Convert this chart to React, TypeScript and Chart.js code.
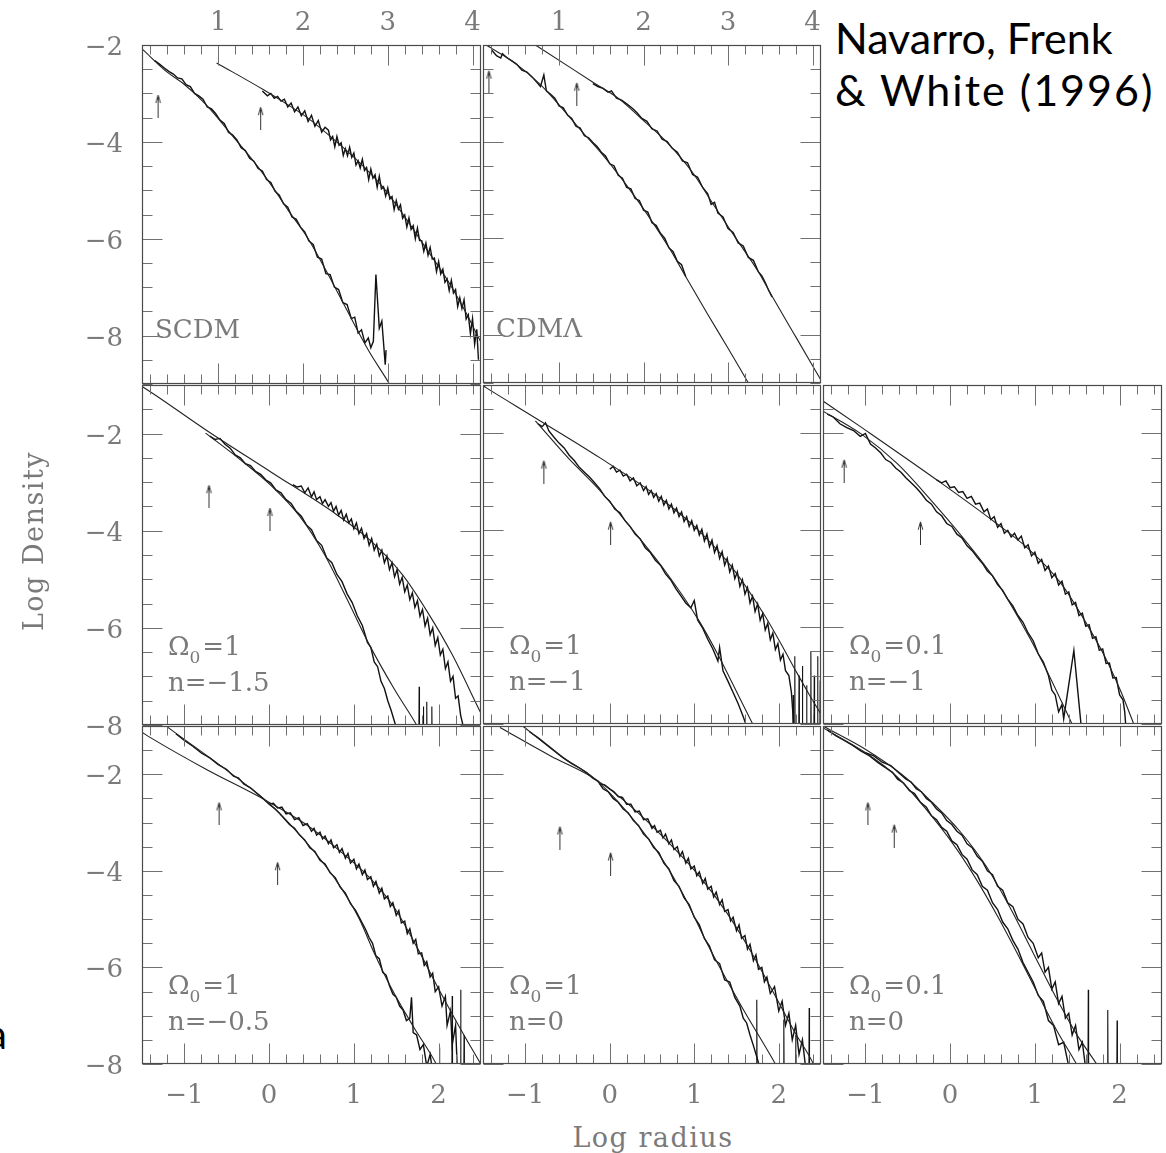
import React, { useEffect, useRef } from "react";
import { Chart, registerables } from "chart.js";

Chart.register(...registerables);

type Pt = [number, number];

// ---------- tick labels ----------
const topAxisLabels = [1, 2, 3, 4];
const bottomAxisLabels = [-1, 0, 1, 2];
const yAxisLabels = [-2, -4, -6, -8];

// ---------- SCDM ----------
const scdmFitSmall: Pt[] = [[0.05,-2.0],[0.1,-2.08],[0.39,-2.55],[0.59,-2.8],[0.85,-3.22],[1.17,-3.88],[1.43,-4.43],[1.64,-4.93],[1.84,-5.45],[2.05,-5.97],[2.26,-6.62],[2.46,-7.28],[2.63,-7.85],[2.78,-8.33],[3.02,-9.0],[3.1,-9.25]];
const scdmDataSmall: Pt[] = [[0.25,-2.32],[0.31,-2.4],[0.36,-2.47],[0.42,-2.55],[0.47,-2.6],[0.52,-2.68],[0.57,-2.7],[0.62,-2.82],[0.67,-2.86],[0.72,-3.0],[0.77,-3.05],[0.82,-3.12],[0.87,-3.28],[0.92,-3.32],[0.97,-3.42],[1.02,-3.55],[1.07,-3.62],[1.12,-3.8],[1.17,-3.86],[1.22,-3.96],[1.27,-4.12],[1.32,-4.18],[1.37,-4.34],[1.42,-4.4],[1.47,-4.55],[1.52,-4.6],[1.57,-4.78],[1.62,-4.84],[1.67,-5.02],[1.72,-5.1],[1.77,-5.28],[1.82,-5.35],[1.87,-5.55],[1.92,-5.6],[1.97,-5.76],[2.02,-5.86],[2.07,-6.05],[2.12,-6.12],[2.17,-6.38],[2.22,-6.42],[2.27,-6.72],[2.32,-6.74],[2.37,-7.0],[2.42,-7.05],[2.47,-7.32],[2.52,-7.36],[2.57,-7.65],[2.61,-7.62],[2.65,-7.95],[2.69,-7.88],[2.73,-8.15],[2.77,-8.05],[2.8,-8.25],[2.83,-8.12],[2.86,-6.74],[2.9,-7.85],[2.93,-7.7],[2.97,-8.6],[2.98,-8.3]];
const scdmFitLarge: Pt[] = [[0.98,-2.37],[1.54,-2.93],[1.79,-3.2],[2.05,-3.5],[2.37,-3.96],[2.68,-4.45],[2.94,-4.93],[3.2,-5.55],[3.46,-6.22],[3.72,-6.9],[3.92,-7.52],[4.03,-7.9],[4.1,-8.14],[4.2,-8.45]];
const scdmDataLarge: Pt[] = [[1.52,-2.95],[1.58,-3.05],[1.62,-3.0],[1.66,-3.1],[1.7,-3.06],[1.74,-3.16],[1.78,-3.12],[1.82,-3.28],[1.86,-3.2],[1.9,-3.38],[1.94,-3.28],[1.98,-3.46],[2.02,-3.36],[2.06,-3.58],[2.1,-3.45],[2.14,-3.68],[2.18,-3.56],[2.22,-3.8],[2.26,-3.7],[2.3,-3.76],[2.325,-3.96],[2.35,-3.89],[2.375,-4.1],[2.4,-3.89],[2.425,-4.07],[2.45,-4.02],[2.475,-4.28],[2.5,-4.14],[2.525,-4.29],[2.55,-4.11],[2.575,-4.32],[2.6,-4.23],[2.625,-4.48],[2.65,-4.39],[2.675,-4.54],[2.7,-4.36],[2.725,-4.59],[2.75,-4.53],[2.775,-4.78],[2.8,-4.56],[2.825,-4.75],[2.85,-4.68],[2.875,-4.94],[2.9,-4.71],[2.925,-4.97],[2.95,-4.93],[2.975,-5.12],[3.0,-4.95],[3.025,-5.18],[3.05,-5.13],[3.075,-5.4],[3.1,-5.21],[3.125,-5.39],[3.15,-5.3],[3.175,-5.58],[3.2,-5.51],[3.225,-5.76],[3.25,-5.57],[3.275,-5.81],[3.3,-5.73],[3.325,-6.0],[3.35,-5.78],[3.375,-6.04],[3.4,-6.04],[3.425,-6.26],[3.45,-6.09],[3.475,-6.34],[3.5,-6.18],[3.525,-6.42],[3.55,-6.4],[3.575,-6.68],[3.6,-6.47],[3.625,-6.73],[3.65,-6.63],[3.675,-6.9],[3.7,-6.83],[3.725,-7.07],[3.75,-6.86],[3.775,-7.12],[3.8,-7.05],[3.825,-7.4],[3.85,-7.22],[3.875,-7.44],[3.9,-7.26],[3.925,-7.66],[3.95,-7.57],[3.975,-7.96],[4.0,-7.65],[4.025,-8.18],[4.05,-7.87],[4.07,-8.5]];
const scdmArrows: Pt[] = [[0.29,-3.26],[1.5,-3.51]];

// ---------- CDM Lambda ----------
const cdmlFitSmall: Pt[] = [[0.1,-1.95],[0.14,-2.0],[0.46,-2.35],[0.78,-2.82],[1.02,-3.28],[1.25,-3.75],[1.49,-4.22],[1.72,-4.72],[1.88,-5.1],[2.06,-5.55],[2.32,-6.25],[2.5,-6.8],[2.75,-7.55],[3.0,-8.28],[3.23,-8.97],[3.3,-9.2]];
const cdmlDataSmall: Pt[] = [[0.2,-2.1],[0.26,-2.22],[0.31,-2.27],[0.33,-2.18],[0.38,-2.26],[0.44,-2.33],[0.5,-2.4],[0.56,-2.52],[0.62,-2.56],[0.68,-2.66],[0.74,-2.78],[0.78,-2.86],[0.82,-2.62],[0.85,-2.95],[0.9,-3.02],[0.95,-3.1],[1.0,-3.26],[1.05,-3.3],[1.1,-3.45],[1.15,-3.52],[1.2,-3.68],[1.25,-3.72],[1.3,-3.88],[1.35,-3.92],[1.4,-4.02],[1.45,-4.1],[1.5,-4.22],[1.55,-4.3],[1.6,-4.46],[1.65,-4.5],[1.7,-4.7],[1.75,-4.76],[1.8,-4.95],[1.85,-4.98],[1.9,-5.18],[1.95,-5.22],[2.0,-5.42],[2.05,-5.46],[2.1,-5.68],[2.15,-5.74],[2.2,-5.9],[2.25,-6.0],[2.3,-6.2],[2.35,-6.28],[2.4,-6.48],[2.45,-6.55],[2.5,-6.8]];
const cdmlFitLarge: Pt[] = [[0.6,-1.86],[0.72,-2.0],[1.41,-2.78],[1.72,-3.13],[1.99,-3.55],[2.28,-4.02],[2.58,-4.64],[2.84,-5.34],[3.1,-6.02],[3.36,-6.7],[3.52,-7.2],[3.8,-8.04],[4.04,-8.76],[4.12,-9.0]];
const cdmlDataLarge: Pt[] = [[1.4,-2.8],[1.46,-2.86],[1.52,-2.9],[1.58,-2.98],[1.62,-2.95],[1.68,-3.1],[1.74,-3.14],[1.8,-3.22],[1.86,-3.3],[1.92,-3.4],[1.98,-3.52],[2.04,-3.58],[2.1,-3.74],[2.16,-3.78],[2.22,-3.95],[2.28,-4.0],[2.34,-4.14],[2.4,-4.22],[2.46,-4.4],[2.52,-4.44],[2.58,-4.68],[2.64,-4.74],[2.7,-4.95],[2.76,-5.08],[2.8,-5.3],[2.84,-5.26],[2.88,-5.48],[2.94,-5.56],[3.0,-5.8],[3.06,-5.88],[3.12,-6.1],[3.18,-6.16],[3.24,-6.4],[3.3,-6.46],[3.36,-6.7],[3.4,-6.78],[3.44,-6.92],[3.48,-7.08],[3.52,-7.22]];
const cdmlArrows: Pt[] = [[0.17,-2.76],[1.21,-3.01]];

// ---------- Omega0=1, n=-1.5 ----------
const m15FitOuter: Pt[] = [[-1.55,-0.98],[-1.49,-1.04],[-0.75,-1.92],[0.03,-2.8],[0.79,-3.66],[1.18,-4.18],[1.57,-4.9],[1.86,-5.65],[2.16,-6.55],[2.5,-7.76],[2.6,-8.1]];
const m15FitInner: Pt[] = [[-0.75,-1.99],[-0.36,-2.51],[0.03,-3.08],[0.36,-3.7],[0.65,-4.48],[0.92,-5.41],[1.18,-6.34],[1.48,-7.27],[1.75,-8.03],[1.8,-8.2]];
const m15DataInner: Pt[] = [[-0.7,-2.05],[-0.64,-2.12],[-0.58,-2.1],[-0.52,-2.22],[-0.46,-2.3],[-0.4,-2.44],[-0.34,-2.5],[-0.28,-2.62],[-0.22,-2.66],[-0.16,-2.78],[-0.1,-2.84],[-0.04,-2.95],[0.02,-3.02],[0.08,-3.16],[0.14,-3.22],[0.2,-3.36],[0.26,-3.44],[0.32,-3.6],[0.38,-3.7],[0.44,-3.88],[0.5,-3.98],[0.56,-4.2],[0.62,-4.3],[0.68,-4.56],[0.74,-4.66],[0.8,-4.9],[0.86,-5.05],[0.92,-5.3],[0.98,-5.48],[1.04,-5.75],[1.1,-5.95],[1.16,-6.3],[1.2,-6.4],[1.24,-6.7],[1.28,-6.8],[1.32,-7.1],[1.36,-7.25],[1.4,-7.5],[1.44,-7.7],[1.5,-8.05],[1.52,-8.3]];
const m15DataOuter: Pt[] = [[0.28,-3.05],[0.33,-3.1],[0.38,-3.08],[0.42,-3.22],[0.46,-3.12],[0.5,-3.3],[0.53,-3.2],[0.56,-3.36],[0.6,-3.3],[0.63,-3.44],[0.66,-3.36],[0.7,-3.5],[0.73,-3.42],[0.76,-3.6],[0.79,-3.5],[0.82,-3.68],[0.85,-3.58],[0.88,-3.78],[0.91,-3.66],[0.94,-3.84],[0.97,-3.76],[1.0,-3.96],[1.03,-3.84],[1.06,-4.06],[1.09,-3.95],[1.12,-4.16],[1.15,-4.06],[1.18,-4.3],[1.21,-4.16],[1.24,-4.4],[1.27,-4.28],[1.3,-4.52],[1.33,-4.4],[1.36,-4.66],[1.39,-4.52],[1.42,-4.8],[1.45,-4.66],[1.48,-4.95],[1.51,-4.8],[1.54,-5.1],[1.57,-4.96],[1.6,-5.26],[1.63,-5.12],[1.66,-5.42],[1.69,-5.28],[1.72,-5.58],[1.75,-5.44],[1.78,-5.76],[1.81,-5.62],[1.84,-5.96],[1.87,-5.8],[1.9,-6.14],[1.93,-6.0],[1.96,-6.36],[1.99,-6.2],[2.02,-6.56],[2.05,-6.44],[2.08,-6.84],[2.11,-6.7],[2.14,-7.1],[2.17,-7.0],[2.2,-7.45],[2.23,-7.4],[2.26,-7.8],[2.3,-8.1],[2.32,-8.3]];
const m15Spikes: Pt[] = [[1.77,-7.21],[1.82,-7.62],[1.86,-7.52],[1.92,-7.62]];
const m15Arrows: Pt[] = [[-0.71,-3.29],[0.01,-3.76]];

// ---------- Omega0=1, n=-1 ----------
const m1FitOuter: Pt[] = [[-1.55,-0.96],[-1.46,-1.06],[-0.88,-1.68],[-0.11,-2.51],[0.66,-3.42],[1.05,-4.0],[1.44,-4.75],[1.83,-5.75],[2.06,-6.45],[2.22,-6.96],[2.37,-7.42],[2.5,-7.8],[2.6,-8.1]];
const m1FitInner: Pt[] = [[-0.88,-1.74],[-0.49,-2.51],[-0.11,-3.19],[0.28,-4.01],[0.66,-4.85],[1.05,-5.85],[1.29,-6.6],[1.52,-7.4],[1.7,-8.03],[1.75,-8.2]];
const m1DataInner: Pt[] = [[-0.85,-1.8],[-0.8,-1.86],[-0.76,-1.78],[-0.72,-1.95],[-0.66,-2.08],[-0.6,-2.2],[-0.54,-2.3],[-0.48,-2.45],[-0.42,-2.56],[-0.36,-2.7],[-0.3,-2.8],[-0.24,-2.9],[-0.18,-3.02],[-0.12,-3.14],[-0.06,-3.3],[0.0,-3.4],[0.06,-3.56],[0.12,-3.64],[0.18,-3.8],[0.24,-3.92],[0.3,-4.08],[0.36,-4.18],[0.42,-4.36],[0.48,-4.46],[0.54,-4.62],[0.6,-4.72],[0.66,-4.9],[0.72,-5.02],[0.78,-5.2],[0.84,-5.35],[0.9,-5.5],[0.96,-5.6],[1.0,-5.45],[1.04,-5.85],[1.1,-6.02],[1.16,-6.25],[1.22,-6.45],[1.28,-6.7],[1.3,-6.42],[1.34,-6.9],[1.4,-7.12],[1.46,-7.35],[1.52,-7.58],[1.58,-7.85],[1.62,-8.05],[1.64,-8.3]];
const m1DataOuter: Pt[] = [[0.0,-2.74],[0.04,-2.68],[0.08,-2.8],[0.12,-2.76],[0.16,-2.88],[0.2,-2.84],[0.24,-2.98],[0.28,-2.92],[0.32,-3.08],[0.36,-3.02],[0.4,-3.18],[0.43,-3.1],[0.46,-3.26],[0.49,-3.18],[0.52,-3.32],[0.55,-3.24],[0.58,-3.4],[0.61,-3.3],[0.64,-3.48],[0.67,-3.38],[0.7,-3.56],[0.73,-3.46],[0.76,-3.64],[0.79,-3.54],[0.82,-3.72],[0.85,-3.62],[0.88,-3.82],[0.91,-3.72],[0.94,-3.92],[0.97,-3.8],[1.0,-4.0],[1.03,-3.9],[1.06,-4.1],[1.09,-3.98],[1.12,-4.22],[1.15,-4.08],[1.18,-4.34],[1.21,-4.2],[1.24,-4.46],[1.27,-4.32],[1.3,-4.58],[1.33,-4.44],[1.36,-4.72],[1.39,-4.58],[1.42,-4.86],[1.45,-4.72],[1.48,-5.0],[1.51,-4.86],[1.54,-5.16],[1.57,-5.02],[1.6,-5.32],[1.63,-5.18],[1.66,-5.5],[1.69,-5.36],[1.72,-5.68],[1.75,-5.52],[1.78,-5.86],[1.81,-5.72],[1.84,-6.06],[1.87,-5.92],[1.9,-6.26],[1.93,-6.12],[1.96,-6.46],[1.99,-6.34],[2.02,-6.68],[2.05,-6.56],[2.08,-6.9],[2.12,-7.0],[2.15,-7.35],[2.18,-8.1],[2.2,-8.3]];
const m1Spikes: Pt[] = [[2.17,-7.4],[2.19,-6.6],[2.24,-7.0],[2.28,-6.8],[2.33,-7.2],[2.38,-6.5],[2.42,-7.0],[2.46,-6.6],[2.49,-7.1]];
const m1Arrows: Pt[] = [[-0.78,-2.79],[0.01,-4.05]];

// ---------- Omega0=0.1, n=-1 ----------
const l1FitOuter: Pt[] = [[-1.55,-1.27],[-1.5,-1.33],[-1.05,-1.87],[-0.19,-2.92],[0.54,-3.85],[0.92,-4.38],[1.31,-5.1],[1.59,-5.87],[1.82,-6.59],[2.01,-7.31],[2.16,-7.97],[2.2,-8.15]];
const l1FitInner: Pt[] = [[-1.55,-1.49],[-1.5,-1.54],[-1.05,-2.01],[-0.62,-2.63],[-0.24,-3.35],[0.15,-4.15],[0.54,-5.04],[0.84,-5.91],[1.08,-6.69],[1.31,-7.52],[1.43,-7.97],[1.47,-8.15]];
const l1DataInner: Pt[] = [[-1.45,-1.6],[-1.38,-1.66],[-1.3,-1.8],[-1.22,-1.88],[-1.14,-1.94],[-1.06,-2.06],[-1.0,-2.0],[-0.94,-2.22],[-0.88,-2.3],[-0.82,-2.4],[-0.76,-2.54],[-0.7,-2.6],[-0.64,-2.72],[-0.58,-2.8],[-0.52,-2.92],[-0.46,-3.02],[-0.4,-3.12],[-0.34,-3.24],[-0.28,-3.38],[-0.22,-3.46],[-0.16,-3.62],[-0.1,-3.7],[-0.04,-3.86],[0.02,-3.92],[0.08,-4.08],[0.14,-4.16],[0.2,-4.32],[0.26,-4.42],[0.32,-4.56],[0.38,-4.68],[0.44,-4.84],[0.5,-4.94],[0.56,-5.12],[0.62,-5.24],[0.68,-5.42],[0.74,-5.56],[0.8,-5.76],[0.86,-5.9],[0.92,-6.12],[0.98,-6.28],[1.04,-6.55],[1.1,-6.72],[1.16,-7.0],[1.2,-7.3],[1.24,-7.4],[1.28,-7.75],[1.32,-7.6],[1.34,-7.89],[1.46,-6.48],[1.54,-7.93],[1.56,-8.3]];
const l1DataOuter: Pt[] = [[-0.16,-2.96],[-0.1,-3.02],[-0.05,-2.98],[0.0,-3.12],[0.05,-3.1],[0.1,-3.22],[0.15,-3.2],[0.2,-3.34],[0.25,-3.3],[0.3,-3.46],[0.35,-3.44],[0.4,-3.62],[0.44,-3.56],[0.48,-3.78],[0.52,-3.72],[0.56,-3.94],[0.6,-3.86],[0.64,-4.06],[0.68,-4.0],[0.72,-4.14],[0.76,-4.06],[0.8,-4.2],[0.84,-4.12],[0.88,-4.36],[0.92,-4.3],[0.96,-4.53],[1.0,-4.45],[1.04,-4.68],[1.08,-4.6],[1.12,-4.83],[1.16,-4.74],[1.2,-4.98],[1.24,-4.89],[1.28,-5.13],[1.32,-5.05],[1.36,-5.32],[1.4,-5.27],[1.44,-5.54],[1.48,-5.49],[1.52,-5.76],[1.56,-5.71],[1.6,-5.98],[1.64,-5.95],[1.68,-6.23],[1.72,-6.2],[1.76,-6.48],[1.8,-6.45],[1.84,-6.75],[1.88,-6.74],[1.92,-7.05],[1.96,-7.04],[2.0,-7.4],[2.04,-7.5],[2.06,-7.75],[2.08,-8.2]];
const l1Arrows: Pt[] = [[-1.25,-2.77],[-0.35,-4.05]];

// ---------- Omega0=1, n=-0.5 ----------
const m05FitOuter: Pt[] = [[-1.5,-1.13],[-1.41,-1.23],[-0.75,-1.89],[-0.05,-2.53],[0.42,-3.02],[0.83,-3.58],[1.18,-4.13],[1.48,-4.77],[1.75,-5.6],[2.01,-6.48],[2.25,-7.25],[2.5,-8.01]];
const m05FitInner: Pt[] = [[-1.23,-0.98],[-1.17,-1.06],[-0.59,-1.8],[-0.05,-2.53],[0.24,-3.02],[0.54,-3.62],[0.83,-4.3],[1.06,-4.98],[1.24,-5.7],[1.44,-6.42],[1.71,-7.25],[1.98,-8.03],[2.02,-8.2]];
const m05DataInner: Pt[] = [[-1.1,-1.16],[-1.0,-1.3],[-0.9,-1.42],[-0.8,-1.56],[-0.7,-1.66],[-0.6,-1.8],[-0.5,-1.9],[-0.42,-2.04],[-0.36,-2.08],[-0.3,-2.2],[-0.22,-2.28],[-0.14,-2.4],[-0.06,-2.52],[0.0,-2.62],[0.06,-2.7],[0.12,-2.8],[0.18,-2.92],[0.24,-3.04],[0.3,-3.12],[0.36,-3.26],[0.42,-3.36],[0.48,-3.52],[0.54,-3.6],[0.6,-3.78],[0.66,-3.86],[0.72,-4.04],[0.78,-4.14],[0.84,-4.34],[0.9,-4.46],[0.96,-4.68],[1.02,-4.82],[1.08,-5.02],[1.14,-5.22],[1.18,-5.38],[1.22,-5.5],[1.26,-5.76],[1.3,-5.82],[1.34,-6.1],[1.38,-6.16],[1.42,-6.38],[1.46,-6.55],[1.5,-6.62],[1.54,-6.8],[1.58,-6.88],[1.62,-7.1],[1.66,-7.05],[1.68,-6.62],[1.7,-7.35],[1.74,-7.4],[1.78,-7.7],[1.82,-7.6],[1.86,-8.05],[1.9,-7.8],[1.94,-8.3]];
const m05DataOuter: Pt[] = [[0.0,-2.62],[0.05,-2.6],[0.1,-2.7],[0.15,-2.68],[0.2,-2.82],[0.25,-2.8],[0.3,-2.94],[0.35,-2.9],[0.4,-3.06],[0.45,-3.02],[0.5,-3.18],[0.53,-3.12],[0.56,-3.26],[0.6,-3.2],[0.63,-3.34],[0.66,-3.28],[0.7,-3.44],[0.73,-3.36],[0.76,-3.52],[0.8,-3.46],[0.83,-3.62],[0.86,-3.54],[0.9,-3.74],[0.93,-3.64],[0.96,-3.84],[1.0,-3.76],[1.03,-3.96],[1.06,-3.86],[1.1,-4.08],[1.13,-3.98],[1.16,-4.18],[1.2,-4.12],[1.23,-4.32],[1.26,-4.22],[1.3,-4.46],[1.33,-4.36],[1.36,-4.58],[1.4,-4.52],[1.43,-4.74],[1.46,-4.66],[1.5,-4.92],[1.53,-4.82],[1.56,-5.08],[1.6,-5.04],[1.63,-5.3],[1.66,-5.2],[1.7,-5.5],[1.73,-5.42],[1.76,-5.72],[1.8,-5.7],[1.83,-5.96],[1.86,-5.88],[1.9,-6.2],[1.93,-6.12],[1.96,-6.5],[2.0,-6.4],[2.04,-6.8],[2.08,-6.6],[2.1,-7.2],[2.14,-6.9],[2.16,-7.6],[2.2,-7.2],[2.22,-8.1],[2.24,-8.3]];
const m05Spikes: Pt[] = [[2.01,-7.66],[2.16,-6.59],[2.26,-6.46],[2.3,-7.4]];
const m05Arrows: Pt[] = [[-0.59,-2.81],[0.1,-4.05]];

// ---------- Omega0=1, n=0 ----------
const m0FitOuter: Pt[] = [[-1.3,-1.03],[-1.23,-1.1],[-0.7,-1.62],[-0.18,-2.09],[0.28,-2.71],[0.66,-3.35],[1.05,-4.09],[1.39,-4.88],[1.68,-5.7],[1.94,-6.53],[2.18,-7.31],[2.42,-8.03],[2.46,-8.2]];
const m0FitInner: Pt[] = [[-1.03,-1.0],[-0.58,-1.62],[-0.18,-2.09],[0.18,-2.73],[0.54,-3.54],[0.86,-4.46],[1.18,-5.6],[1.57,-6.84],[1.97,-8.03],[2.02,-8.2]];
const m0DataInner: Pt[] = [[-0.95,-1.12],[-0.85,-1.24],[-0.75,-1.38],[-0.65,-1.52],[-0.55,-1.66],[-0.45,-1.78],[-0.35,-1.88],[-0.28,-1.96],[-0.2,-2.08],[-0.14,-2.14],[-0.08,-2.3],[-0.02,-2.36],[0.04,-2.5],[0.1,-2.58],[0.16,-2.72],[0.22,-2.8],[0.28,-2.96],[0.34,-3.06],[0.4,-3.24],[0.46,-3.34],[0.52,-3.52],[0.58,-3.62],[0.64,-3.84],[0.7,-3.96],[0.76,-4.2],[0.82,-4.32],[0.88,-4.56],[0.94,-4.7],[1.0,-4.96],[1.06,-5.12],[1.12,-5.4],[1.18,-5.56],[1.24,-5.84],[1.3,-5.92],[1.36,-6.26],[1.42,-6.3],[1.48,-6.62],[1.54,-6.8],[1.58,-7.05],[1.62,-7.15],[1.66,-7.4],[1.7,-7.62],[1.74,-7.85],[1.78,-8.1],[1.8,-8.3]];
const m0DataOuter: Pt[] = [[-0.12,-2.2],[-0.06,-2.22],[0.0,-2.3],[0.05,-2.36],[0.1,-2.46],[0.15,-2.48],[0.2,-2.62],[0.25,-2.62],[0.3,-2.78],[0.35,-2.76],[0.4,-2.94],[0.45,-2.92],[0.5,-3.12],[0.53,-3.06],[0.56,-3.2],[0.6,-3.16],[0.63,-3.32],[0.66,-3.24],[0.7,-3.44],[0.73,-3.36],[0.76,-3.56],[0.8,-3.5],[0.83,-3.7],[0.86,-3.6],[0.9,-3.84],[0.93,-3.74],[0.96,-3.96],[1.0,-3.9],[1.03,-4.1],[1.06,-4.02],[1.1,-4.26],[1.13,-4.16],[1.16,-4.38],[1.2,-4.32],[1.23,-4.54],[1.26,-4.44],[1.3,-4.7],[1.33,-4.6],[1.36,-4.84],[1.4,-4.8],[1.43,-5.04],[1.46,-4.96],[1.5,-5.24],[1.53,-5.12],[1.56,-5.4],[1.6,-5.34],[1.63,-5.62],[1.66,-5.52],[1.7,-5.86],[1.73,-5.74],[1.76,-6.04],[1.8,-6.0],[1.83,-6.3],[1.86,-6.2],[1.9,-6.54],[1.95,-6.4],[2.0,-6.9],[2.04,-6.7],[2.08,-7.2],[2.12,-6.95],[2.16,-7.5],[2.2,-7.2],[2.24,-7.8],[2.28,-7.5],[2.32,-8.1],[2.34,-8.3]];
const m0Spikes: Pt[] = [[1.74,-6.67],[2.06,-7.08],[2.2,-7.4],[2.36,-6.84]];
const m0Arrows: Pt[] = [[-0.59,-3.31],[0.01,-3.85]];

// ---------- Omega0=0.1, n=0 ----------
const l0FitOuter: Pt[] = [[-1.55,-0.95],[-1.5,-1.0],[-1.01,-1.47],[-0.58,-1.99],[-0.23,-2.55],[0.12,-3.19],[0.42,-3.89],[0.71,-4.77],[0.98,-5.7],[1.24,-6.59],[1.48,-7.35],[1.74,-8.03],[1.8,-8.2]];
const l0FitInner: Pt[] = [[-1.55,-0.99],[-1.5,-1.04],[-1.01,-1.54],[-0.64,-2.03],[-0.29,-2.71],[0.03,-3.43],[0.3,-4.15],[0.56,-4.94],[0.79,-5.7],[1.03,-6.53],[1.26,-7.31],[1.5,-8.03],[1.55,-8.2]];
const l0DataInner: Pt[] = [[-1.45,-1.08],[-1.35,-1.2],[-1.25,-1.3],[-1.15,-1.4],[-1.05,-1.52],[-0.95,-1.62],[-0.85,-1.76],[-0.75,-1.88],[-0.68,-1.96],[-0.62,-2.1],[-0.55,-2.18],[-0.48,-2.34],[-0.42,-2.4],[-0.35,-2.58],[-0.28,-2.68],[-0.22,-2.86],[-0.16,-2.94],[-0.1,-3.1],[-0.04,-3.18],[0.02,-3.38],[0.08,-3.46],[0.14,-3.66],[0.2,-3.76],[0.26,-3.98],[0.32,-4.08],[0.38,-4.32],[0.44,-4.4],[0.5,-4.66],[0.56,-4.8],[0.62,-5.06],[0.68,-5.2],[0.74,-5.44],[0.8,-5.62],[0.86,-5.9],[0.92,-6.1],[0.98,-6.3],[1.04,-6.58],[1.1,-6.7],[1.16,-7.1],[1.22,-7.2],[1.28,-7.6],[1.34,-7.55],[1.4,-8.05],[1.42,-8.3]];
const l0DataOuter: Pt[] = [[-1.0,-1.55],[-0.9,-1.62],[-0.8,-1.75],[-0.7,-1.82],[-0.6,-1.98],[-0.52,-2.1],[-0.46,-2.16],[-0.4,-2.3],[-0.34,-2.36],[-0.28,-2.5],[-0.22,-2.58],[-0.16,-2.72],[-0.1,-2.8],[-0.04,-2.96],[0.02,-3.04],[0.08,-3.18],[0.14,-3.26],[0.2,-3.44],[0.26,-3.52],[0.32,-3.7],[0.38,-3.8],[0.44,-4.0],[0.5,-4.08],[0.56,-4.32],[0.62,-4.4],[0.68,-4.66],[0.74,-4.74],[0.8,-5.0],[0.86,-5.1],[0.92,-5.38],[0.98,-5.5],[1.04,-5.8],[1.08,-5.7],[1.12,-6.1],[1.16,-6.0],[1.2,-6.45],[1.24,-6.3],[1.28,-6.75],[1.32,-6.6],[1.36,-7.05],[1.4,-6.95],[1.44,-7.4],[1.48,-7.2],[1.52,-7.7],[1.56,-7.55],[1.6,-8.1],[1.62,-8.3]];
const l0Spikes: Pt[] = [[1.63,-6.46],[1.86,-6.88],[1.97,-7.1]];
const l0Arrows: Pt[] = [[-0.97,-2.81],[-0.66,-3.27]];

// ---------- layout ----------
const COL_LEFT = [142, 482, 822];
const COL_W = [340, 340, 341];
const ROW_TOP = [45, 384, 725];
const ROW_H = [339, 341, 339];

interface PanelDef {
  col: number; row: number;
  xMin: number; xMax: number; yMin: number; yMax: number;
  fits: Pt[][]; data: Pt[][]; spikes: Pt[]; arrows: Pt[];
  name?: string; omega?: string; n?: string;
}

const TOP_X = { xMin: 0.1, xMax: 4.1, yMin: -9, yMax: -2 };
const STD_X = { xMin: -1.5, xMax: 2.5, yMin: -8, yMax: -1 };

const panels: PanelDef[] = [
  { col: 0, row: 0, ...TOP_X, fits: [scdmFitSmall, scdmFitLarge], data: [scdmDataSmall, scdmDataLarge], spikes: [], arrows: scdmArrows, name: "SCDM" },
  { col: 1, row: 0, ...TOP_X, fits: [cdmlFitSmall, cdmlFitLarge], data: [cdmlDataSmall, cdmlDataLarge], spikes: [], arrows: cdmlArrows, name: "CDMΛ" },
  { col: 0, row: 1, ...STD_X, fits: [m15FitOuter, m15FitInner], data: [m15DataInner, m15DataOuter], spikes: m15Spikes, arrows: m15Arrows, omega: "1", n: "−1.5" },
  { col: 1, row: 1, ...STD_X, fits: [m1FitOuter, m1FitInner], data: [m1DataInner, m1DataOuter], spikes: m1Spikes, arrows: m1Arrows, omega: "1", n: "−1" },
  { col: 2, row: 1, ...STD_X, fits: [l1FitOuter, l1FitInner], data: [l1DataInner, l1DataOuter], spikes: [], arrows: l1Arrows, omega: "0.1", n: "−1" },
  { col: 0, row: 2, ...STD_X, fits: [m05FitOuter, m05FitInner], data: [m05DataInner, m05DataOuter], spikes: m05Spikes, arrows: m05Arrows, omega: "1", n: "−0.5" },
  { col: 1, row: 2, ...STD_X, fits: [m0FitOuter, m0FitInner], data: [m0DataInner, m0DataOuter], spikes: m0Spikes, arrows: m0Arrows, omega: "1", n: "0" },
  { col: 2, row: 2, ...STD_X, fits: [l0FitOuter, l0FitInner], data: [l0DataInner, l0DataOuter], spikes: l0Spikes, arrows: l0Arrows, omega: "0.1", n: "0" },
];

const SERIF = '"DejaVu Serif", serif';
const TEXT_GRAY = "#7a7a7a";

function fmt(v: number): string {
  return v < 0 ? "−" + Math.abs(v) : String(v);
}

function arrowImage(): HTMLCanvasElement {
  const c = document.createElement("canvas");
  c.width = 9; c.height = 24;
  const g = c.getContext("2d")!;
  g.strokeStyle = "#333"; g.lineWidth = 1;
  g.beginPath(); g.moveTo(4.5, 1.5); g.lineTo(4.5, 24); g.stroke();
  g.beginPath(); g.moveTo(2.2, 9); g.lineTo(4.5, 1); g.lineTo(6.8, 9); g.stroke();
  return c;
}

function stepValues(min: number, max: number, step: number): number[] {
  const out: number[] = [];
  for (let k = Math.ceil(min / step - 1e-6); k * step <= max + 1e-6; k++) out.push(+(k * step).toFixed(4));
  return out;
}

function framePlugin(def: PanelDef) {
  return {
    id: "panelFrame",
    afterDatasetsDraw(chart: any) {
      const { ctx, chartArea: a } = chart;
      const xs = chart.scales.x, ys = chart.scales.y;
      const xMajor = def.row === 0 ? topAxisLabels : bottomAxisLabels;
      const yMajor = yAxisLabels;
      const xMinor = stepValues(def.xMin, def.xMax, 0.2).filter(v => !xMajor.some(m => Math.abs(m - v) < 1e-6));
      const yMinor = stepValues(def.yMin, def.yMax, 0.5).filter(v => !yMajor.some(m => Math.abs(m - v) < 1e-6));
      const l = Math.round(a.left) + 0.5, r = Math.round(a.right) - 0.5;
      const t = Math.round(a.top) + 0.5, b = Math.round(a.bottom) - 0.5;
      ctx.save();
      ctx.strokeStyle = "#707070";
      ctx.lineWidth = 1;
      ctx.beginPath();
      const vx = (v: number, len: number) => {
        const p = Math.round(xs.getPixelForValue(v)) + 0.5;
        ctx.moveTo(p, b); ctx.lineTo(p, b - len);
        ctx.moveTo(p, t); ctx.lineTo(p, t + len);
      };
      const hy = (v: number, len: number) => {
        const p = Math.round(ys.getPixelForValue(v)) + 0.5;
        ctx.moveTo(l, p); ctx.lineTo(l + len, p);
        ctx.moveTo(r, p); ctx.lineTo(r - len, p);
      };
      xMinor.forEach(v => vx(v, 9));
      xMajor.forEach(v => vx(v, 20));
      yMinor.forEach(v => hy(v, 10));
      yMajor.forEach(v => hy(v, 20));
      ctx.stroke();
      ctx.strokeStyle = "#4a4a4a";
      ctx.lineWidth = 1.2;
      ctx.strokeRect(l, t, r - l, b - t);

      ctx.fillStyle = TEXT_GRAY;
      ctx.font = "26px " + SERIF;
      if (def.col === 0) {
        ctx.textAlign = "right";
        ctx.textBaseline = "alphabetic";
        yMajor.forEach(v => ctx.fillText(fmt(v), a.left - 19, ys.getPixelForValue(v) + 10));
      }
      if (def.row === 2) {
        ctx.textAlign = "center";
        bottomAxisLabels.forEach(v => ctx.fillText(fmt(v), xs.getPixelForValue(v), a.bottom + 39));
      }
      if (def.row === 0) {
        ctx.textAlign = "center";
        topAxisLabels.forEach(v => ctx.fillText(fmt(v), xs.getPixelForValue(v), a.top - 15));
      }
      ctx.textAlign = "left";
      if (def.name) {
        ctx.fillText(def.name, a.left + 13, a.bottom - 46);
      }
      if (def.omega) {
        const x0 = a.left + 26;
        const yb = a.bottom - 70;
        ctx.fillText("Ω", x0, yb);
        const w1 = ctx.measureText("Ω").width;
        ctx.font = "17px " + SERIF;
        ctx.fillText("0", x0 + w1, yb + 8);
        const w2 = ctx.measureText("0").width;
        ctx.font = "26px " + SERIF;
        ctx.fillText("=" + def.omega, x0 + w1 + w2 + 2, yb);
        ctx.fillText("n=" + def.n, x0, a.bottom - 34);
      }
      ctx.restore();
    },
  };
}

function Panel({ def }: { def: PanelDef }) {
  const ref = useRef<HTMLCanvasElement | null>(null);
  const L = COL_LEFT[def.col], T = ROW_TOP[def.row], W = COL_W[def.col], H = ROW_H[def.row];
  const padL = def.col === 0 ? 100 : 4;
  const padR = 4;
  const padT = def.row === 0 ? 44 : 4;
  const padB = def.row === 2 ? 50 : (def.col === 0 ? 20 : 4);
  const cw = W + padL + padR, chh = H + padT + padB;

  useEffect(() => {
    if (!ref.current) return;
    const toXY = (arr: Pt[]) => arr.map(([x, y]) => ({ x, y }));
    const floor = def.yMin - 0.5;
    const datasets: any[] = [];
    def.fits.forEach(f => datasets.push({
      data: toXY(f), showLine: true, borderColor: "#222", borderWidth: 1.1,
      pointRadius: 0, cubicInterpolationMode: "monotone",
    }));
    def.data.forEach(d => datasets.push({
      data: toXY(d), showLine: true, borderColor: "#111", borderWidth: 1.4,
      pointRadius: 0, tension: 0,
    }));
    if (def.spikes.length) {
      const pts: Pt[] = [];
      def.spikes.forEach(([x, tp]) => { pts.push([x - 0.004, floor], [x, tp], [x + 0.004, floor]); });
      datasets.push({ data: toXY(pts), showLine: true, borderColor: "#111", borderWidth: 1.1, pointRadius: 0, tension: 0 });
    }
    datasets.push({
      data: toXY(def.arrows), showLine: false, pointStyle: arrowImage(), pointRadius: 4,
    });
    const chart = new Chart(ref.current, {
      type: "scatter",
      data: { datasets },
      options: {
        animation: false,
        responsive: false,
        devicePixelRatio: 1,
        events: [],
        layout: { padding: { left: padL, right: padR, top: padT, bottom: padB } },
        plugins: { legend: { display: false }, tooltip: { enabled: false } },
        scales: {
          x: { type: "linear", min: def.xMin, max: def.xMax, display: false },
          y: { type: "linear", min: def.yMin, max: def.yMax, display: false },
        },
      },
      plugins: [framePlugin(def)],
    } as any);
    return () => chart.destroy();
  }, []);

  return (
    <canvas
      ref={ref}
      width={cw}
      height={chh}
      style={{ position: "absolute", left: L - padL, top: T - padT, width: cw, height: chh }}
    />
  );
}

export default function App() {
  useEffect(() => {
    document.body.style.overflow = "hidden";
  }, []);
  return (
    <div style={{ position: "absolute", left: 0, top: 0, width: 1166, height: 1153, background: "#fff", overflow: "hidden" }}>
      {panels.map((p, i) => <Panel key={i} def={p} />)}
      <div style={{ position: "absolute", left: 835, top: 12, fontFamily: 'Lato, "Open Sans", sans-serif', fontSize: 43, lineHeight: "52px", color: "#000", whiteSpace: "nowrap" }}>
        Navarro, Frenk<br /><span style={{ letterSpacing: "2px" }}>&amp; White (1996)</span>
      </div>
      <div style={{ position: "absolute", left: 453, top: 1118, width: 400, textAlign: "center", fontFamily: SERIF, fontSize: 27, lineHeight: "40px", color: TEXT_GRAY, letterSpacing: "1.5px" }}>
        Log radius
      </div>
      <div style={{ position: "absolute", left: 34 - 200, top: 541 - 20, width: 400, height: 40, textAlign: "center", fontFamily: SERIF, fontSize: 27, lineHeight: "40px", color: TEXT_GRAY, letterSpacing: "1.5px", transform: "rotate(-90deg)" }}>
        Log Density
      </div>
      <div style={{ position: "absolute", left: -13, top: 1012, fontFamily: "Lato, sans-serif", fontSize: 40, lineHeight: "44px", color: "#000" }}>
        a
      </div>
    </div>
  );
}
